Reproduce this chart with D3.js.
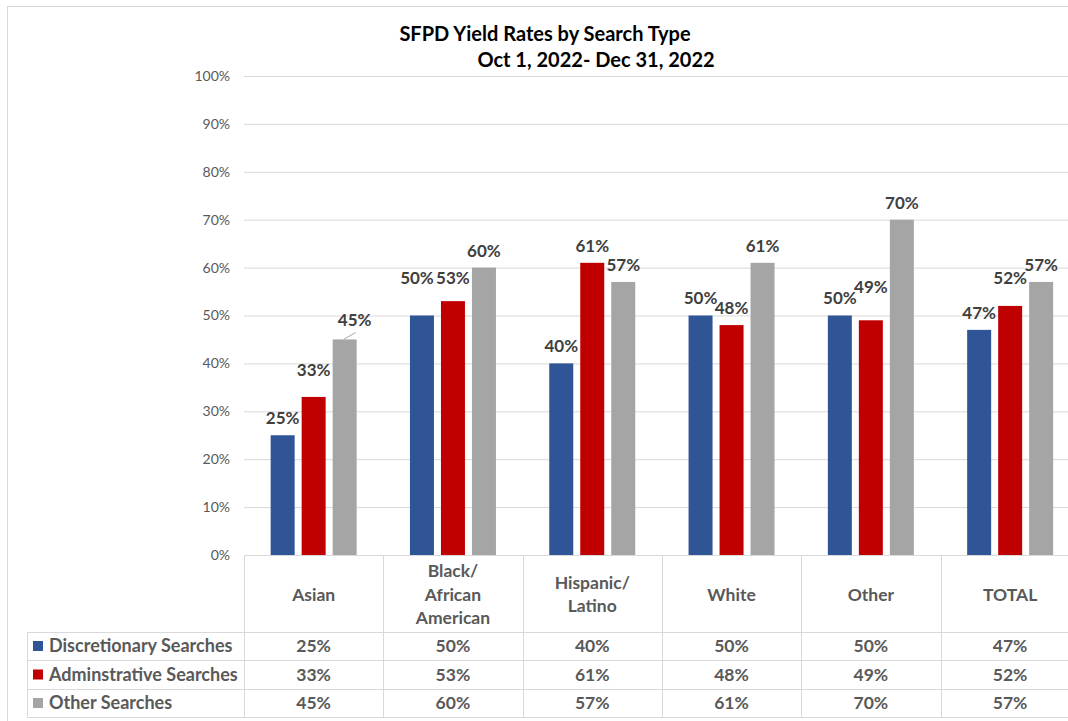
<!DOCTYPE html>
<html>
<head>
<meta charset="utf-8">
<script src="https://cdn.jsdelivr.net/npm/d3@7"></script>
<style>
  body { margin: 0; background: #fff; }
  svg { display: block; font-family: Lato, "Noto Sans", sans-serif; }
</style>
</head>
<body>
<svg width="1068" height="721"></svg>
<script>
var categories = ["Asian", "Black/\nAfrican\nAmerican", "Hispanic/\nLatino", "White", "Other", "TOTAL"];
var seriesNames = ["Discretionary Searches", "Adminstrative Searches", "Other Searches"];
var discretionary = [25, 50, 40, 50, 50, 47];
var administrative = [33, 53, 61, 48, 49, 52];
var otherSearches = [45, 60, 57, 61, 70, 57];
var yTicks = [0, 10, 20, 30, 40, 50, 60, 70, 80, 90, 100];

var colors = ["#2F5597", "#C00000", "#A5A5A5"];
var seriesValues = [discretionary, administrative, otherSearches];

// labels that Excel pushed away from the bar top (series index - category index)
var nudges = {
  "1-0": {dx: 0, dy: -10},
  "2-0": {dx: 10, dy: -2, leader: true},
  "0-1": {dx: -5, dy: -20},
  "1-1": {dx: 0, dy: -6},
  "1-4": {dx: 0, dy: -16},
  "1-5": {dx: 0, dy: -11}
};

var svg = d3.select("svg");
var left = 244, plotTop = 76, plotBottom = 555;
var band = 139.3;
var right = left + band * categories.length;

// chart frame
svg.append("rect")
  .attr("x", 7.5).attr("y", 6.5)
  .attr("width", 1100).attr("height", 800)
  .attr("fill", "none").attr("stroke", "#d9d9d9");

var x = d3.scaleBand()
  .domain(d3.range(categories.length))
  .range([left, right]);

var xInner = d3.scaleBand()
  .domain(d3.range(seriesNames.length))
  .range([0, band])
  .paddingInner(0.226)
  .paddingOuter(0.86);

var y = d3.scaleLinear()
  .domain([0, 100])
  .range([plotBottom, plotTop]);

// gridlines + tick labels
var yAxis = svg.append("g")
  .attr("transform", "translate(" + left + ",0)")
  .call(d3.axisLeft(y)
    .tickValues(yTicks)
    .tickSize(-(right - left))
    .tickPadding(14)
    .tickFormat(function(d) { return d + "%"; }));
yAxis.select(".domain").remove();
yAxis.selectAll(".tick line").attr("stroke", "#d9d9d9");
yAxis.selectAll(".tick text")
  .attr("fill", "#595959")
  .style("font-size", "14px")
  .style("font-family", "Lato, sans-serif");

// bars
var rows = [];
seriesValues.forEach(function(vals, s) {
  vals.forEach(function(v, c) { rows.push({s: s, c: c, v: v}); });
});

svg.selectAll("rect.bar")
  .data(rows)
  .enter()
  .append("rect")
  .attr("class", "bar")
  .attr("x", function(d) { return x(d.c) + xInner(d.s); })
  .attr("y", function(d) { return y(d.v); })
  .attr("width", xInner.bandwidth())
  .attr("height", function(d) { return plotBottom - y(d.v); })
  .attr("fill", function(d) { return colors[d.s]; });

// data labels
var labels = svg.append("g");
rows.forEach(function(d) {
  var n = nudges[d.s + "-" + d.c] || {dx: 0, dy: 0};
  var cx = x(d.c) + xInner(d.s) + xInner.bandwidth() / 2;
  var cy = y(d.v) - 17;
  labels.append("text")
    .attr("x", cx + n.dx)
    .attr("y", cy + n.dy)
    .attr("dy", "0.35em")
    .attr("text-anchor", "middle")
    .attr("fill", "#404040")
    .style("font-size", "17px")
    .style("font-weight", "bold")
    .text(d.v + "%");
  if (n.leader) {
    labels.append("line")
      .attr("x1", cx - 1).attr("y1", y(d.v))
      .attr("x2", cx + 11).attr("y2", y(d.v) - 7)
      .attr("stroke", "#a6a6a6");
  }
});

// data table
var tableLine = "#d9d9d9";
var rowTops = [632, 660, 689, 717];
var tbl = svg.append("g");

tbl.append("line").attr("x1", left).attr("x2", right)
  .attr("y1", plotBottom + 0.5).attr("y2", plotBottom + 0.5).attr("stroke", tableLine);
rowTops.forEach(function(t) {
  tbl.append("line").attr("x1", 27).attr("x2", right)
    .attr("y1", t + 0.5).attr("y2", t + 0.5).attr("stroke", tableLine);
});
tbl.append("line").attr("x1", 27.5).attr("x2", 27.5)
  .attr("y1", rowTops[0]).attr("y2", rowTops[3]).attr("stroke", tableLine);
d3.range(categories.length + 1).forEach(function(i) {
  var xx = Math.round(left + band * i) + 0.5;
  tbl.append("line").attr("x1", xx).attr("x2", xx)
    .attr("y1", plotBottom).attr("y2", rowTops[3]).attr("stroke", tableLine);
});

var cellStyle = function(sel) {
  sel.attr("fill", "#595959")
    .style("font-size", "17.5px")
    .style("font-weight", "bold");
};

// category headers
categories.forEach(function(cat, c) {
  var lines = cat.split("\n");
  var cx = x(c) + band / 2;
  var mid = (plotBottom + rowTops[0]) / 2 + 1;
  lines.forEach(function(line, i) {
    tbl.append("text")
      .attr("x", cx)
      .attr("y", mid + (i - (lines.length - 1) / 2) * 23.5)
      .attr("dy", "0.35em")
      .attr("text-anchor", "middle")
      .call(cellStyle)
      .text(line);
  });
});

// legend rows + values
seriesNames.forEach(function(name, s) {
  var cy = (rowTops[s] + rowTops[s + 1]) / 2;
  tbl.append("rect")
    .attr("x", 33).attr("y", cy - 5)
    .attr("width", 10).attr("height", 10)
    .attr("fill", colors[s]);
  tbl.append("text")
    .attr("x", 49).attr("y", cy)
    .attr("dy", "0.35em")
    .call(cellStyle)
    .style("font-size", "18px")
    .text(name);
  seriesValues[s].forEach(function(v, c) {
    tbl.append("text")
      .attr("x", x(c) + band / 2)
      .attr("y", cy)
      .attr("dy", "0.35em")
      .attr("text-anchor", "middle")
      .call(cellStyle)
      .text(v + "%");
  });
});

// title
svg.append("text")
  .attr("x", 545).attr("y", 34).attr("dy", "0.35em")
  .attr("text-anchor", "middle")
  .style("font-size", "20px").style("font-weight", "bold")
  .attr("fill", "#000")
  .text("SFPD Yield Rates by Search Type");
svg.append("text")
  .attr("x", 596).attr("y", 60).attr("dy", "0.35em")
  .attr("text-anchor", "middle")
  .style("font-size", "20px").style("font-weight", "bold")
  .attr("fill", "#000")
  .text("Oct 1, 2022- Dec 31, 2022");
</script>
</body>
</html>
